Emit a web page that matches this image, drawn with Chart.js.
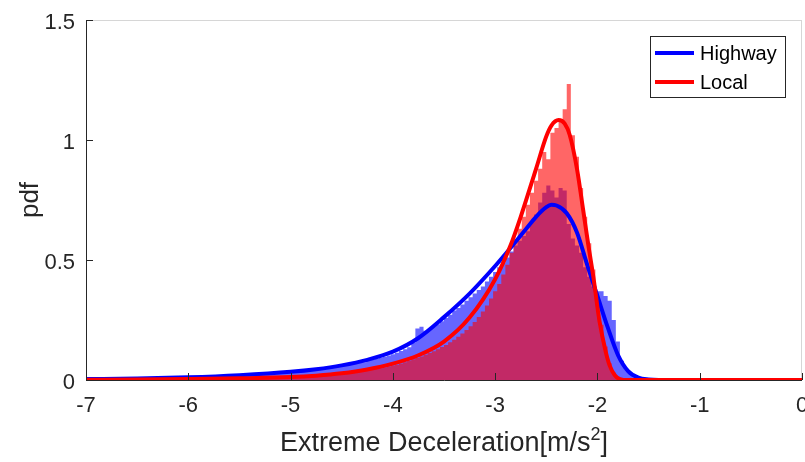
<!DOCTYPE html>
<html><head><meta charset="utf-8">
<script src="https://cdn.jsdelivr.net/npm/chart.js@4/dist/chart.umd.min.js"></script>
<style>html,body{margin:0;padding:0;background:#fff}#wrap{position:relative;width:805px;height:462px}</style>
</head><body><div id="wrap"><canvas id="c" width="805" height="462"></canvas></div>
<script>
const xTicks = [-7,-6,-5,-4,-3,-2,-1,0];
const xTickLabels = ['-7','-6','-5','-4','-3','-2','-1','0'];
const yTicks = [0,0.5,1,1.5];
const yTickLabels = ['0','0.5','1','1.5'];
const seriesNames = ['Highway','Local'];
const xTitle = 'Extreme Deceleration[m/s';
const xTitleSup = '2';
const xTitleEnd = ']';
const yTitle = 'pdf';

// histogram: first bin left edge and bin width (x units)
const binStart = -7.02;
const binWidth = 0.04;

const highwayHist = [
0.003,0.004,0.003,0.004,0.004,0.003,0.004,0.005,0.004,0.005,
0.005,0.006,0.005,0.006,0.006,0.007,0.006,0.007,0.008,0.007,
0.008,0.009,0.009,0.010,0.009,0.011,0.010,0.012,0.011,0.012,
0.013,0.013,0.014,0.015,0.015,0.016,0.017,0.017,0.018,0.019,
0.020,0.021,0.022,0.023,0.024,0.025,0.026,0.028,0.029,0.030,
0.031,0.033,0.034,0.036,0.037,0.039,0.041,0.043,0.045,0.048,
0.051,0.053,0.056,0.058,0.061,0.064,0.067,0.071,0.074,0.079,
0.084,0.088,0.093,0.097,0.102,0.107,0.114,0.121,0.128,0.136,
0.155,0.215,0.222,0.205,0.212,0.222,0.232,0.245,0.258,0.272,
0.290,0.300,0.315,0.330,0.345,0.360,0.375,0.390,0.410,0.430,
0.450,0.470,0.490,0.510,0.535,0.560,0.580,0.600,0.620,0.660,
0.690,0.740,0.780,0.810,0.790,0.760,0.800,0.790,0.650,0.590,
0.560,0.530,0.470,0.430,0.390,0.370,0.370,0.350,0.330,0.250,
0.160,0.080,0.045,0.030,0.015,0.008,0.003,0.001,0,0
];

const localHist = [
0.001,0.001,0.001,0.001,0.001,0.002,0.001,0.002,0.002,0.002,
0.002,0.002,0.002,0.002,0.003,0.002,0.003,0.003,0.003,0.003,
0.003,0.004,0.004,0.004,0.004,0.005,0.005,0.005,0.005,0.005,
0.005,0.005,0.006,0.006,0.006,0.006,0.007,0.007,0.007,0.007,
0.008,0.008,0.008,0.009,0.009,0.009,0.010,0.010,0.011,0.011,
0.011,0.012,0.012,0.013,0.014,0.015,0.016,0.017,0.018,0.019,
0.021,0.022,0.024,0.026,0.027,0.029,0.032,0.034,0.037,0.040,
0.043,0.046,0.049,0.052,0.056,0.060,0.064,0.069,0.074,0.080,
0.086,0.092,0.098,0.105,0.112,0.120,0.128,0.137,0.146,0.157,
0.168,0.180,0.194,0.208,0.224,0.242,0.262,0.285,0.310,0.340,
0.370,0.400,0.440,0.480,0.530,0.580,0.630,0.680,0.730,0.780,
0.830,0.880,0.950,0.920,1.030,1.050,1.083,1.128,1.233,1.020,
0.930,0.800,0.680,0.570,0.460,0.340,0.230,0.140,0.070,0.030,
0.012,0.004,0.001,0,0,0,0,0,0,0
];

const highwayFitX = [-7,-6.5,-6,-5.5,-5,-4.75,-4.5,-4.25,-4,-3.75,-3.5,-3.25,-3,-2.85,-2.7,-2.6,-2.5,-2.45,-2.4,-2.3,-2.2,-2.1,-2,-1.9,-1.8,-1.7,-1.6,-1.5,-1.4,0];
const highwayFitY = [0.004,0.006,0.011,0.02,0.034,0.045,0.061,0.084,0.118,0.175,0.262,0.36,0.475,0.55,0.628,0.68,0.72,0.73,0.727,0.695,0.615,0.48,0.35,0.22,0.105,0.037,0.01,0.002,0,0];

const localFitX = [-7,-6.5,-6,-5.5,-5,-4.75,-4.5,-4.25,-4,-3.75,-3.5,-3.25,-3,-2.85,-2.75,-2.6,-2.5,-2.45,-2.38,-2.32,-2.27,-2.2,-2.14,-2.09,-2.04,-1.98,-1.92,-1.88,-1.83,-1.78,-1.7,0];
const localFitY = [0.001,0.002,0.004,0.007,0.012,0.018,0.028,0.044,0.068,0.103,0.16,0.26,0.42,0.56,0.68,0.88,1.015,1.06,1.083,1.068,1.02,0.88,0.71,0.565,0.43,0.245,0.12,0.06,0.02,0.004,0,0];

function histPoints(h){
  const pts = h.map((v,i)=>({x: binStart + i*binWidth, y: v}));
  pts.push({x: binStart + h.length*binWidth, y: 0});
  return pts;
}
function fitPoints(xs, ys){ return xs.map((x,i)=>({x: x, y: ys[i]})); }

const FONT = "'Liberation Sans', Arial, Helvetica, sans-serif";
const AXIS_COLOR = '#262626';

const axesPlugin = {
  id: 'matlabAxes',
  beforeDatasetsDraw(chart){
    const {ctx, chartArea: a} = chart;
    ctx.save();
    ctx.lineWidth = 1;
    ctx.strokeStyle = '#d6d6d6';
    ctx.beginPath();
    ctx.moveTo(a.left, a.top + 0.5); ctx.lineTo(a.right, a.top + 0.5);
    ctx.moveTo(a.right - 0.5, a.top); ctx.lineTo(a.right - 0.5, a.bottom);
    ctx.stroke();
    ctx.strokeStyle = AXIS_COLOR;
    ctx.beginPath();
    ctx.moveTo(a.left + 0.5, a.top); ctx.lineTo(a.left + 0.5, a.bottom + 0.5);
    ctx.lineTo(a.right, a.bottom + 0.5);
    ctx.stroke();
    ctx.restore();
  },
  afterDatasetsDraw(chart){
    const {ctx, chartArea: a, scales} = chart;
    ctx.save();
    ctx.lineWidth = 1;
    ctx.strokeStyle = AXIS_COLOR;
    ctx.beginPath();
    xTicks.forEach(v=>{
      const px = Math.round(scales.x.getPixelForValue(v)) + 0.5;
      ctx.moveTo(px, a.bottom); ctx.lineTo(px, a.bottom - 7);
    });
    yTicks.forEach(v=>{
      const py = Math.round(scales.y.getPixelForValue(v)) + 0.5;
      ctx.moveTo(a.left, py); ctx.lineTo(a.left + 7, py);
    });
    ctx.stroke();
    ctx.restore();
  },
  afterDraw(chart){
    const {ctx, chartArea: a} = chart;
    ctx.save();
    // legend
    const lx = 650.5, ly = 36.5, lw = 135, lh = 61;
    ctx.fillStyle = '#fff';
    ctx.fillRect(lx, ly, lw, lh);
    ctx.strokeStyle = AXIS_COLOR;
    ctx.lineWidth = 1;
    ctx.strokeRect(lx, ly, lw, lh);
    const fits = [chart.data.datasets[2], chart.data.datasets[3]];
    const rows = [53, 82];
    fits.forEach((ds, i)=>{
      ctx.strokeStyle = ds.borderColor;
      ctx.lineWidth = 4;
      ctx.beginPath();
      ctx.moveTo(655, rows[i]); ctx.lineTo(694, rows[i]);
      ctx.stroke();
      ctx.fillStyle = '#000';
      ctx.font = '20px ' + FONT;
      ctx.textAlign = 'left';
      ctx.textBaseline = 'middle';
      ctx.fillText(ds.label, 700, rows[i] + 1);
    });
    // x title with superscript
    ctx.fillStyle = AXIS_COLOR;
    ctx.textBaseline = 'alphabetic';
    ctx.textAlign = 'left';
    const mainFont = '27px ' + FONT, supFont = '18px ' + FONT;
    ctx.font = mainFont; const w1 = ctx.measureText(xTitle).width; const w3 = ctx.measureText(xTitleEnd).width;
    ctx.font = supFont; const w2 = ctx.measureText(xTitleSup).width;
    const total = w1 + w2 + w3;
    let x0 = (a.left + a.right)/2 - total/2;
    const base = 451;
    ctx.font = mainFont; ctx.fillText(xTitle, x0, base);
    ctx.font = supFont; ctx.fillText(xTitleSup, x0 + w1, base - 11);
    ctx.font = mainFont; ctx.fillText(xTitleEnd, x0 + w1 + w2, base);
    // y title
    ctx.translate(31, (a.top + a.bottom)/2);
    ctx.rotate(-Math.PI/2);
    ctx.textAlign = 'center';
    ctx.textBaseline = 'middle';
    ctx.font = '26px ' + FONT;
    ctx.fillText(yTitle, 0, 0);
    ctx.restore();
  }
};

new Chart(document.getElementById('c').getContext('2d'), {
  type: 'line',
  data: {
    datasets: [
      {label: seriesNames[0] + ' histogram', data: histPoints(highwayHist), stepped: 'before', fill: 'origin',
       backgroundColor: 'rgba(0,0,255,0.6)', borderColor: 'rgba(0,0,0,0)', borderWidth: 0, pointRadius: 0, order: 4, clip: 0},
      {label: seriesNames[1] + ' histogram', data: histPoints(localHist), stepped: 'before', fill: 'origin',
       backgroundColor: 'rgba(255,0,0,0.6)', borderColor: 'rgba(0,0,0,0)', borderWidth: 0, pointRadius: 0, order: 3, clip: 0},
      {label: seriesNames[0], data: fitPoints(highwayFitX, highwayFitY), borderColor: '#0000ff', borderWidth: 4,
       pointRadius: 0, fill: false, cubicInterpolationMode: 'monotone', order: 2},
      {label: seriesNames[1], data: fitPoints(localFitX, localFitY), borderColor: '#ff0000', borderWidth: 4,
       pointRadius: 0, fill: false, cubicInterpolationMode: 'monotone', order: 1}
    ]
  },
  options: {
    responsive: false,
    animation: false,
    devicePixelRatio: 1,
    layout: {padding: {left: 0, right: 3, top: 20, bottom: 0}},
    plugins: {legend: {display: false}, tooltip: {enabled: false}},
    scales: {
      x: {
        type: 'linear', min: -7, max: 0,
        afterBuildTicks: s => { s.ticks = xTicks.map(v => ({value: v})); },
        afterFit: s => { s.height = 82; s.paddingLeft = 0; s.paddingRight = 0; },
        ticks: {callback: (v, i) => xTickLabels[i], font: {family: FONT, size: 22}, color: AXIS_COLOR,
                padding: 13, maxRotation: 0, autoSkip: false},
        grid: {display: false, drawTicks: false},
        border: {display: false}
      },
      y: {
        type: 'linear', min: 0, max: 1.5,
        afterBuildTicks: s => { s.ticks = yTicks.map(v => ({value: v})); },
        afterFit: s => { s.width = 86; s.paddingTop = 0; s.paddingBottom = 0; },
        ticks: {callback: (v, i) => yTickLabels[i], font: {family: FONT, size: 22}, color: AXIS_COLOR,
                padding: 11, labelOffset: 3, autoSkip: false},
        grid: {display: false, drawTicks: false},
        border: {display: false}
      }
    }
  },
  plugins: [axesPlugin]
});
</script>
</body></html>
